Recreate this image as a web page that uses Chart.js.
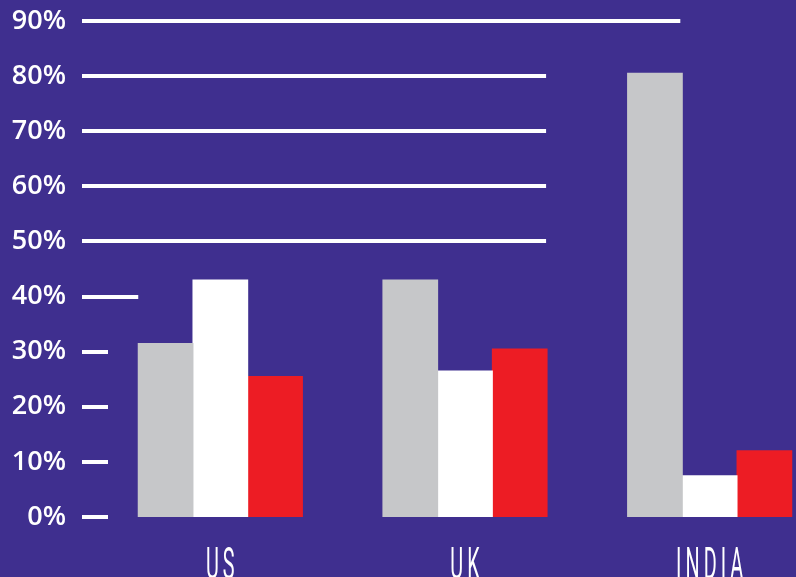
<!DOCTYPE html>
<html>
<head>
<meta charset="utf-8">
<script src="https://cdn.jsdelivr.net/npm/chart.js@4.4.1/dist/chart.umd.min.js"></script>
<style>
  html, body { margin: 0; padding: 0; background: #3f2f8f; overflow: hidden; }
  #wrap { width: 832px; height: 577px; }
</style>
</head>
<body>
<div id="wrap"><canvas id="myBarChart"></canvas></div>
<script>
var countries = ['US', 'UK', 'INDIA'];
var seriesGray = [31.5, 43, 80.5];
var seriesWhite = [43, 26.5, 7.5];
var seriesRed = [25.5, 30.5, 12];
var yTicks = [0, 10, 20, 30, 40, 50, 60, 70, 80, 90];

// white rules behind the bars, each one stopping at a different point
var ruleLines = {
    id: 'ruleLines',
    beforeDatasetsDraw: function (chart) {
        var ctx = chart.ctx;
        var y = chart.scales.y;
        var area = chart.chartArea;
        var gray = chart.getDatasetMeta(0).data;
        var red = chart.getDatasetMeta(2).data;
        var start = area.left - 16;
        ctx.save();
        ctx.strokeStyle = '#ffffff';
        ctx.lineWidth = 4;
        yTicks.forEach(function (t) {
            var end;
            if (t >= 90) end = gray[2].x + gray[2].width / 2 - 2;
            else if (t >= 50) end = red[1].x + red[1].width / 2 - 1;
            else if (t >= 40) end = gray[0].x - gray[0].width / 2;
            else end = start + 26;
            var py = Math.round(y.getPixelForValue(t));
            ctx.beginPath();
            ctx.moveTo(start, py);
            ctx.lineTo(end, py);
            ctx.stroke();
        });
        ctx.restore();
    }
};

// narrow category names under each group
var countryLabels = {
    id: 'countryLabels',
    afterDraw: function (chart) {
        var ctx = chart.ctx;
        var x = chart.scales.x;
        ctx.save();
        ctx.fillStyle = '#ffffff';
        ctx.font = '44px Roboto';
        ctx.textAlign = 'center';
        ctx.textBaseline = 'alphabetic';
        if ('letterSpacing' in ctx) ctx.letterSpacing = '9px';
        countries.forEach(function (c, i) {
            ctx.save();
            ctx.translate(x.getPixelForValue(i) + 2, 579);
            ctx.scale(0.45, 1);
            ctx.fillText(c, 0, 0);
            ctx.restore();
        });
        ctx.restore();
    }
};

var ctx = document.getElementById('myBarChart').getContext('2d');
window.bar = new Chart(ctx, {
    type: 'bar',
    data: {
        labels: countries,
        datasets: [
            { data: seriesGray, backgroundColor: '#c6c7c9' },
            { data: seriesWhite, backgroundColor: '#ffffff' },
            { data: seriesRed, backgroundColor: '#ed1c24' }
        ]
    },
    options: {
        responsive: true,
        maintainAspectRatio: false,
        animation: false,
        layout: { padding: { top: 21, right: 0, bottom: 0, left: 0 } },
        datasets: {
            bar: { barPercentage: 1, categoryPercentage: 0.671, borderWidth: 0, inflateAmount: 0.5 }
        },
        plugins: {
            legend: { display: false },
            tooltip: { enabled: false }
        },
        scales: {
            x: {
                grid: { display: false, drawTicks: false },
                border: { display: false },
                ticks: { display: false },
                afterFit: function (s) { s.height = 60; }
            },
            y: {
                min: 0,
                max: 90,
                grid: { display: false, drawTicks: false },
                border: { display: false },
                ticks: {
                    stepSize: 10,
                    padding: 32,
                    color: '#ffffff',
                    font: { family: 'Open Sans', size: 27, weight: '600' },
                    callback: function (v) { return v + '%'; }
                },
                afterFit: function (s) {
                    s.width = 98;
                    s.paddingTop = 0;
                    s.paddingBottom = 0;
                }
            }
        }
    },
    plugins: [ruleLines, countryLabels]
});
</script>
</body>
</html>
